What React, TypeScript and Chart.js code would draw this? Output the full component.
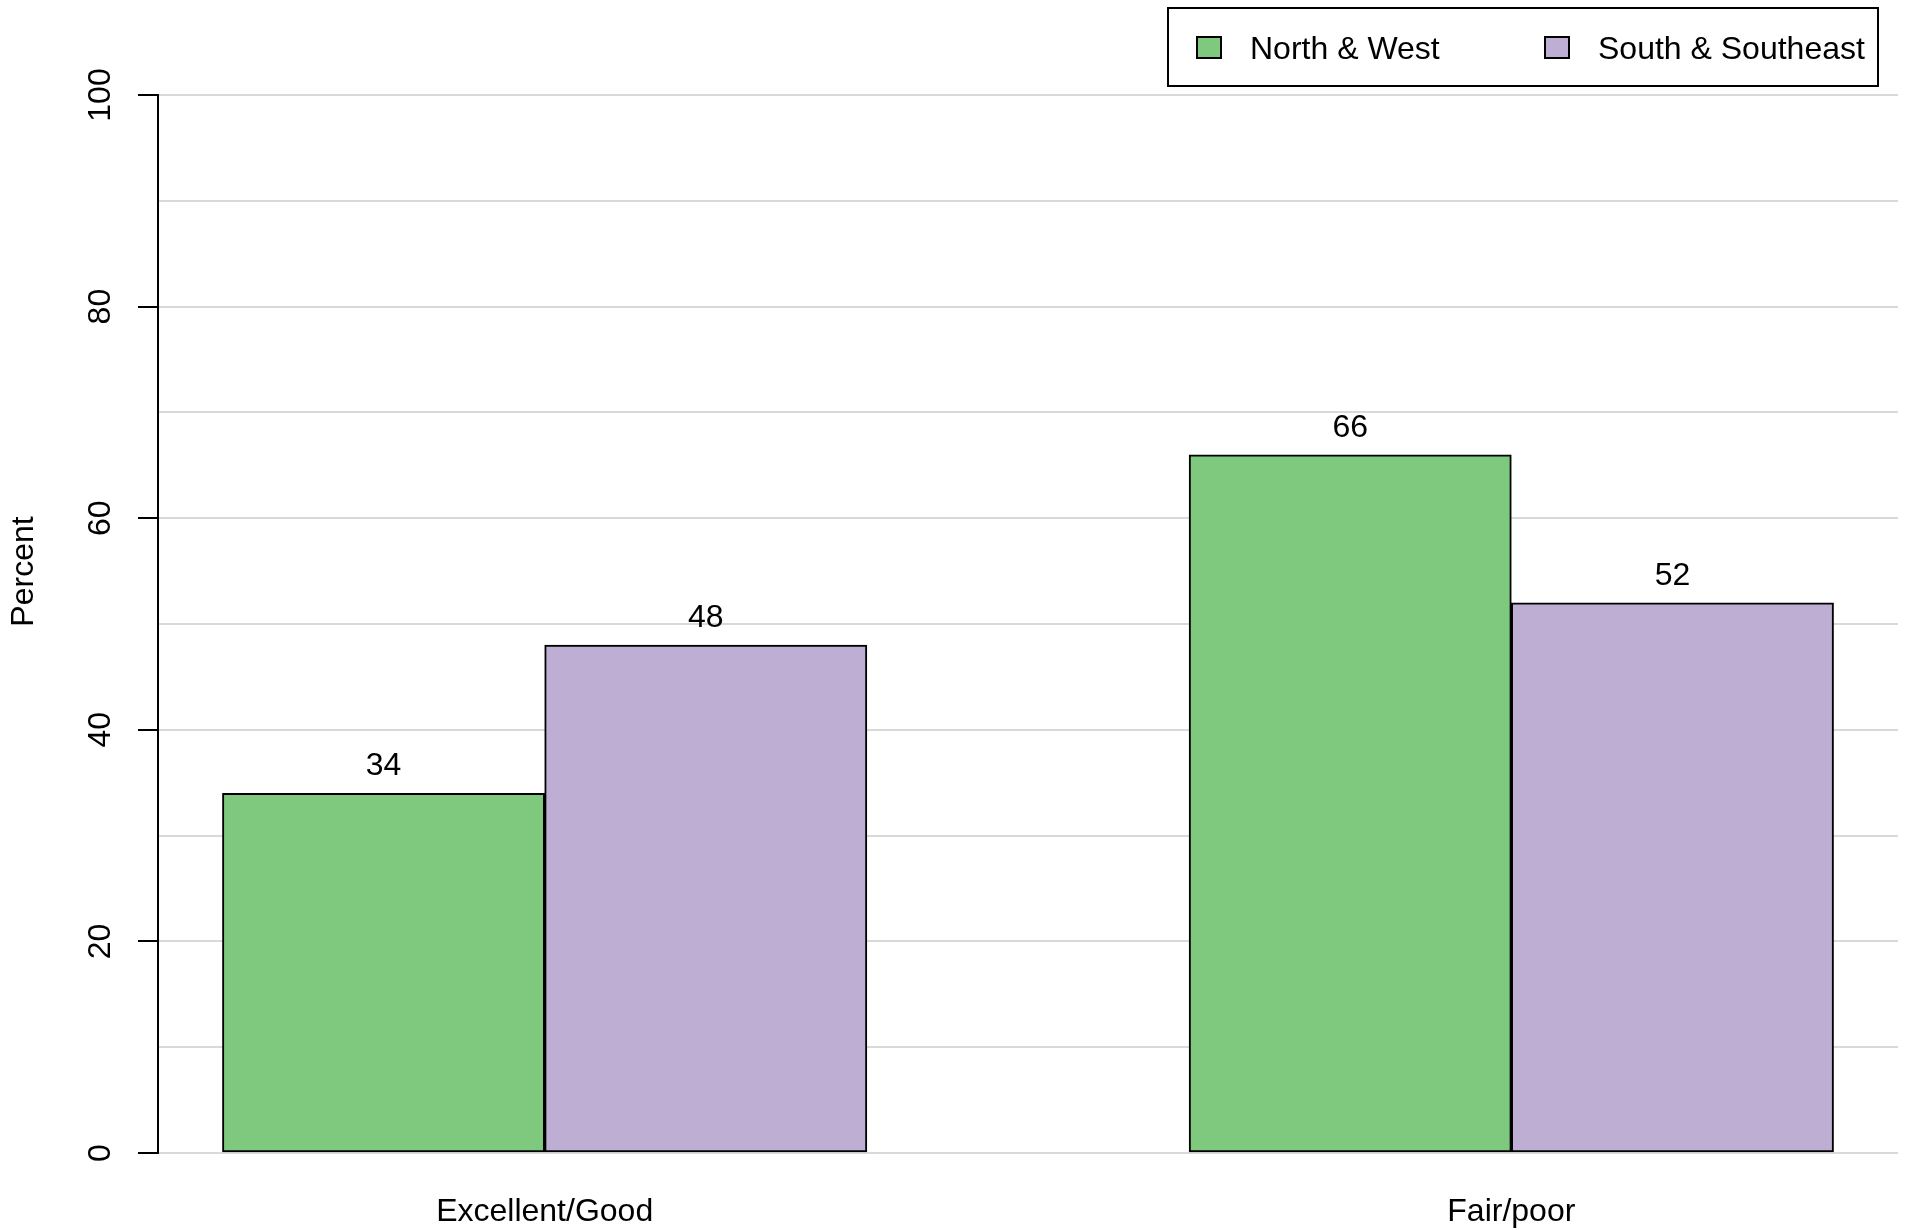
import React, { useEffect, useRef } from 'react';
import { Chart, registerables } from 'chart.js';

Chart.register(...registerables);

// ---- data ----
const categories = ['Excellent/Good', 'Fair/poor'];
const seriesNames = ['North & West', 'South & Southeast'];
const northWest = [34, 66];
const southSoutheast = [48, 52];
const seriesColors = ['#7FC97F', '#BEAED4'];
const yAxisTitle = 'Percent';
const yLabelStep = 20;
const yGridStep = 10;
const yMax = 100;

const FONT = '"Liberation Sans", Arial, Helvetica, sans-serif';
const FS = 32;

const seriesValues = [northWest, southSoutheast];
const nSeries = seriesValues.length;
const nGroups = categories.length;
// R barplot(beside=TRUE) layout: bars of width 1, one empty slot between groups
const slot = (g: number, s: number) => g * (nSeries + 1) + s + 1.5;
const groupCenter = (g: number) => g * (nSeries + 1) + 1 + nSeries / 2;
const xLo = 1;
const xHi = nGroups * (nSeries + 1);
const xMin = xLo - 0.04 * (xHi - xLo);
const xMax = xHi + 0.04 * (xHi - xLo);

const overlayPlugin = {
  id: 'overlay',
  afterDatasetsDraw(chart: any) {
    const ctx = chart.ctx;
    ctx.save();
    ctx.fillStyle = '#000';
    ctx.font = `${FS}px ${FONT}`;
    ctx.textAlign = 'center';
    ctx.textBaseline = 'alphabetic';
    chart.data.datasets.forEach((ds: any, i: number) => {
      const meta = chart.getDatasetMeta(i);
      meta.data.forEach((el: any, j: number) => {
        ctx.fillText(String(ds.data[j].y), el.x, el.y - 18);
      });
    });
    ctx.restore();
  },
  afterDraw(chart: any) {
    const ctx = chart.ctx;
    ctx.save();
    // y axis title
    ctx.translate(24, 571.5);
    ctx.rotate(-Math.PI / 2);
    ctx.fillStyle = '#000';
    ctx.font = `${FS}px ${FONT}`;
    ctx.textAlign = 'center';
    ctx.textBaseline = 'middle';
    ctx.fillText(yAxisTitle, 0, 0);
    ctx.restore();

    // legend
    ctx.save();
    ctx.strokeStyle = '#000';
    ctx.lineWidth = 2;
    ctx.strokeRect(1168, 8, 710, 78);
    const sx = [1197, 1545];
    const tx = [1250, 1598];
    ctx.font = `${FS}px ${FONT}`;
    ctx.textAlign = 'left';
    ctx.textBaseline = 'middle';
    seriesNames.forEach((name, i) => {
      ctx.fillStyle = seriesColors[i];
      ctx.fillRect(sx[i], 37, 24, 21);
      ctx.strokeRect(sx[i], 37, 24, 21);
      ctx.fillStyle = '#000';
      ctx.fillText(name, tx[i], 50);
    });
    ctx.restore();
  },
};

export default function App() {
  const ref = useRef<HTMLCanvasElement | null>(null);
  useEffect(() => {
    if (!ref.current) return;
    const chart = new Chart(ref.current, {
      type: 'bar',
      data: {
        datasets: seriesValues.map((vals, s) => ({
          label: seriesNames[s],
          data: vals.map((v, g) => ({ x: slot(g, s), y: v })),
          backgroundColor: seriesColors[s],
          borderColor: '#000',
          borderWidth: 2,
          borderSkipped: false,
          grouped: false,
          categoryPercentage: 1,
          barPercentage: 1,
          yAxisID: 'y',
        })),
      },
      options: {
        responsive: false,
        animation: false,
        devicePixelRatio: 1,
        layout: { padding: { top: 95, right: 9, left: 0, bottom: 0 } },
        plugins: { legend: { display: false }, tooltip: { enabled: false } },
        scales: {
          x: {
            type: 'linear',
            min: xMin,
            max: xMax,
            offset: false,
            grid: { display: false, drawTicks: false, offset: false },
            border: { display: false },
            afterBuildTicks: (scale: any) => {
              scale.ticks = categories.map((_, g) => ({ value: groupCenter(g) }));
            },
            ticks: {
              callback: (_v: any, i: number) => categories[i],
              font: { size: FS, family: FONT },
              color: '#000',
              padding: 40,
              maxRotation: 0,
              minRotation: 0,
              autoSkip: false,
            },
            afterFit: (scale: any) => {
              scale.height = 77;
            },
          },
          y: {
            type: 'linear',
            position: 'left',
            min: 0,
            max: yMax,
            ticks: { stepSize: yGridStep, display: false },
            grid: { color: '#d9d9d9', lineWidth: 2, drawTicks: false },
            border: { display: false },
            afterFit: (scale: any) => {
              scale.width = 0;
            },
          },
          y2: {
            type: 'linear',
            position: 'left',
            min: 0,
            max: yMax,
            ticks: {
              stepSize: yLabelStep,
              font: { size: FS, family: FONT },
              color: '#000',
              minRotation: 90,
              maxRotation: 90,
              crossAlign: 'center',
              padding: 10,
            },
            grid: {
              drawOnChartArea: false,
              drawTicks: true,
              tickLength: 20,
              color: '#000',
              lineWidth: 2,
            },
            border: { display: true, color: '#000', width: 2 },
            afterFit: (scale: any) => {
              scale.width = 158;
            },
          },
        },
      } as any,
      plugins: [overlayPlugin],
    });
    return () => chart.destroy();
  }, []);

  return (
    <div style={{ position: 'fixed', left: 0, top: 0, width: 1907, height: 1230, background: '#fff' }}>
      <canvas ref={ref} width={1907} height={1230} style={{ display: 'block' }} />
    </div>
  );
}
